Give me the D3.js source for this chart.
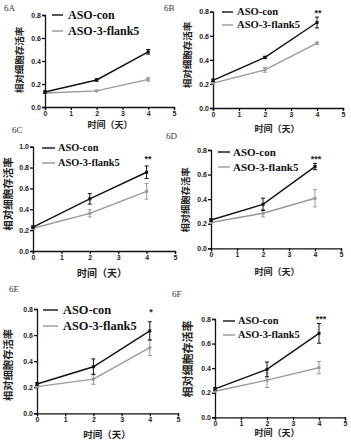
<!DOCTYPE html>
<html>
<head>
<meta charset="utf-8">
<script src="https://cdn.jsdelivr.net/npm/d3@7"></script>
<style>
    body { margin: 0; background: #fff; }
    .tick text { font-family: "Liberation Sans", Arial, sans-serif; font-weight: bold; font-size: 7px; fill: #222; }
    .domain, .tick line { stroke: #111; stroke-width: 1.3px; }
    .legend { font-family: "Liberation Serif", "Times New Roman", serif; font-weight: bold; fill: #111; }
    .title { font-family: "Liberation Serif", serif; font-size: 9px; fill: #333; }
    .axlabel { font-family: "Noto Sans CJK SC", sans-serif; font-weight: bold; fill: #222; }
</style>
</head>
<body>
<svg id="chart" width="351" height="443"></svg>
<script>
// data
let panelNames = ["6A", "6B", "6C", "6D", "6E", "6F"];
let days = [0, 2, 4];
let seriesNames = ["ASO-con", "ASO-3-flank5"];
let conMean  = [[0.13, 0.235, 0.48], [0.23, 0.42, 0.71], [0.23, 0.50, 0.755], [0.23, 0.358, 0.665], [0.225, 0.357, 0.632], [0.232, 0.39, 0.683]];
let conErr   = [[0.01, 0.01, 0.02], [0.01, 0.01, 0.045], [0.01, 0.05, 0.06], [0.01, 0.05, 0.025], [0.01, 0.06, 0.07], [0.01, 0.06, 0.08]];
let flankMean = [[0.122, 0.14, 0.24], [0.207, 0.317, 0.538], [0.218, 0.361, 0.572], [0.21, 0.285, 0.407], [0.205, 0.262, 0.503], [0.212, 0.302, 0.404]];
let flankErr  = [[0.005, 0.005, 0.015], [0.005, 0.02, 0.01], [0.005, 0.035, 0.075], [0.005, 0.03, 0.07], [0.005, 0.04, 0.06], [0.005, 0.06, 0.05]];
let yMax = [0.8, 0.8, 1.0, 0.8, 0.8, 0.8];
let stars = ["", "**", "**", "***", "*", "***"];
let xTicks = [0, 1, 2, 3, 4, 5];
let xLabel = "时间（天）";
let yLabel = "相对细胞存活率";

// layout: plot box, legend, labels for each panel
let layout = [
    {x0: 45, x1: 174, yb: 107, yt: 15, leg: [52, 63, 15, 31, 68], fs: 12, title: [4, 11], xl: [110, 128], xfs: 9, yl: [20, 60], yfs: 9.5, star: [148, 8]},
    {x0: 213, x1: 343, yb: 108, yt: 11.7, leg: [222, 233, 12, 25, 237], fs: 10.6, title: [164, 11], xl: [277, 132], xfs: 9, yl: [188, 55], yfs: 9.5, star: [318, 16]},
    {x0: 33, x1: 175, yb: 251, yt: 146.7, leg: [42, 55, 148, 163, 58], fs: 10.4, title: [12, 133], xl: [102, 277], xfs: 10, yl: [8.5, 194], yfs: 10.5, star: [148, 162]},
    {x0: 211, x1: 341, yb: 248.3, yt: 150, leg: [218, 230, 152, 167, 233], fs: 11, title: [166, 139], xl: [277, 275], xfs: 9, yl: [186, 200], yfs: 9.3, star: [316, 162]},
    {x0: 37, x1: 178, yb: 413.3, yt: 309, leg: [43, 58, 310, 326, 63], fs: 12.4, title: [9, 292], xl: [107, 438], xfs: 9.5, yl: [8, 365], yfs: 10.3, star: [151, 315]},
    {x0: 215, x1: 345, yb: 417.3, yt: 319, leg: [223, 235, 321, 335, 238], fs: 10.4, title: [172, 297], xl: [277, 436], xfs: 9, yl: [188, 359], yfs: 11, star: [321, 322]}
];

let colors = ["#111", "#999"];
let svg = d3.select("#chart");

panelNames.forEach(function(name, i){
    let L = layout[i];
    let g = svg.append("g");

    let x = d3.scaleLinear().domain([0, 5]).range([L.x0, L.x1]);
    let y = d3.scaleLinear().domain([0, yMax[i]]).range([L.yb, L.yt]);

    g.append("g")
        .attr("transform", "translate(0," + L.yb + ")")
        .call(d3.axisBottom(x).tickValues(xTicks).tickSize(3).tickPadding(1).tickFormat(d3.format("d")));
    g.append("g")
        .attr("transform", "translate(" + L.x0 + ",0)")
        .call(d3.axisLeft(y).ticks(yMax[i] / 0.2).tickSize(3).tickPadding(1).tickFormat(d3.format(".1f")));

    let series = [
        {mean: conMean[i], err: conErr[i]},
        {mean: flankMean[i], err: flankErr[i]}
    ];

    // grey first so the black line sits on top
    [1, 0].forEach(function(s){
        let pts = days.map((d, k) => ({d: d, m: series[s].mean[k], e: series[s].err[k]}));
        let line = d3.line().x(p => x(p.d)).y(p => y(p.m));
        g.append("path").datum(pts)
            .attr("d", line)
            .attr("fill", "none")
            .attr("stroke", colors[s])
            .attr("stroke-width", 1.4);

        let eb = g.selectAll(null).data(pts).enter().append("g").attr("stroke", colors[s]).attr("stroke-width", 1);
        eb.append("line")
            .attr("x1", p => x(p.d)).attr("x2", p => x(p.d))
            .attr("y1", p => y(p.m - p.e)).attr("y2", p => y(p.m + p.e));
        eb.append("line")
            .attr("x1", p => x(p.d) - 2).attr("x2", p => x(p.d) + 2)
            .attr("y1", p => y(p.m + p.e)).attr("y2", p => y(p.m + p.e));
        eb.append("line")
            .attr("x1", p => x(p.d) - 2).attr("x2", p => x(p.d) + 2)
            .attr("y1", p => y(p.m - p.e)).attr("y2", p => y(p.m - p.e));
        g.selectAll(null).data(pts).enter().append("rect")
            .attr("x", p => x(p.d) - 1.5).attr("y", p => y(p.m) - 1.5)
            .attr("width", 3).attr("height", 3)
            .attr("fill", colors[s]);
    });

    // legend
    seriesNames.forEach(function(sn, s){
        let ly = s == 0 ? L.leg[2] : L.leg[3];
        g.append("line")
            .attr("x1", L.leg[0]).attr("x2", L.leg[1])
            .attr("y1", ly).attr("y2", ly)
            .attr("stroke", colors[s]).attr("stroke-width", 1.4);
        g.append("text").attr("class", "legend")
            .attr("x", L.leg[4]).attr("y", ly + L.fs * 0.33)
            .style("font-size", L.fs + "px")
            .text(sn);
    });

    g.append("text").attr("class", "title")
        .attr("x", L.title[0]).attr("y", L.title[1]).text(name);

    g.append("text").attr("class", "axlabel")
        .attr("x", L.xl[0]).attr("y", L.xl[1])
        .style("font-size", L.xfs + "px")
        .attr("text-anchor", "middle").text(xLabel);

    g.append("text").attr("class", "axlabel")
        .attr("transform", "translate(" + (L.yl[0] + L.yfs * 0.35) + "," + L.yl[1] + ") rotate(-90)")
        .style("font-size", L.yfs + "px")
        .attr("text-anchor", "middle").text(yLabel);

    if (stars[i]) {
        g.append("text")
            .attr("x", L.star[0]).attr("y", L.star[1])
            .attr("text-anchor", "middle")
            .style("font-family", "Liberation Sans, sans-serif")
            .style("font-size", "9px").style("font-weight", "bold").style("fill", "#222")
            .text(stars[i]);
    }
});
</script>
</body>
</html>
